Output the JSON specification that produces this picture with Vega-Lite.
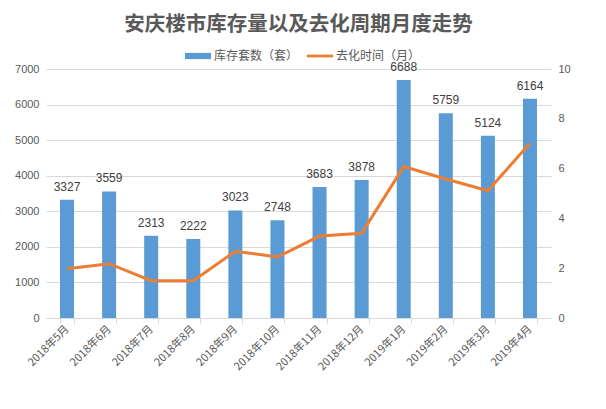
{
  "$schema": "https://vega.github.io/schema/vega-lite/v6.json",
  "autosize": {"type": "none"},
  "width": 505,
  "height": 249,
  "padding": {"left": 46, "top": 69, "right": 55, "bottom": 91},
  "background": "white",
  "title": {
    "text": "安庆楼市库存量以及去化周期月度走势",
    "fontSize": 20.5,
    "font": "Noto Sans CJK SC",
    "fontWeight": "bold",
    "color": "#595959",
    "anchor": "middle",
    "frame": "group",
    "offset": 8
  },
  "data": {
    "values": [
      {"month": "2018年5月", "stock": 3327, "cycle": 1.98},
      {"month": "2018年6月", "stock": 3559, "cycle": 2.18},
      {"month": "2018年7月", "stock": 2313, "cycle": 1.5},
      {"month": "2018年8月", "stock": 2222, "cycle": 1.5},
      {"month": "2018年9月", "stock": 3023, "cycle": 2.68},
      {"month": "2018年10月", "stock": 2748, "cycle": 2.45},
      {"month": "2018年11月", "stock": 3683, "cycle": 3.29},
      {"month": "2018年12月", "stock": 3878, "cycle": 3.4},
      {"month": "2019年1月", "stock": 6688, "cycle": 6.08},
      {"month": "2019年2月", "stock": 5759, "cycle": 5.58},
      {"month": "2019年3月", "stock": 5124, "cycle": 5.11},
      {"month": "2019年4月", "stock": 6164, "cycle": 7.02}
    ]
  },
  "encoding": {
    "x": {
      "field": "month",
      "type": "nominal",
      "sort": null,
      "scale": {"paddingInner": 0.667, "paddingOuter": 0.333},
      "axis": {
        "title": null,
        "labelAngle": -45,
        "labelAlign": "right",
        "labelBaseline": "middle",
        "labelFontSize": 11,
        "labelFont": "Noto Sans CJK SC",
        "labelColor": "#595959",
        "labelPadding": 4,
        "domainColor": "#d9d9d9",
        "tickColor": "#d9d9d9",
        "tickBand": "extent",
        "tickSize": 5,
        "grid": false
      }
    }
  },
  "layer": [
    {
      "mark": {"type": "bar", "color": "#5B9BD5"},
      "encoding": {
        "y": {
          "field": "stock",
          "type": "quantitative",
          "scale": {"domain": [0, 7000]},
          "axis": {
            "title": null,
            "values": [0, 1000, 2000, 3000, 4000, 5000, 6000, 7000],
            "format": "d",
            "domain": false,
            "ticks": false,
            "labelFontSize": 11,
            "labelFont": "Liberation Sans",
            "labelColor": "#595959",
            "labelPadding": 7,
            "gridColor": "#d9d9d9",
            "gridWidth": 1
          }
        },
        "color": {
          "datum": "库存套数（套）",
          "type": "nominal",
          "scale": {"domain": ["库存套数（套）", "去化时间（月）"], "range": ["#5B9BD5", "#ED7D31"]},
          "legend": {
            "title": null,
            "orient": "none",
            "direction": "horizontal",
            "legendX": 139,
            "legendY": -26,
            "labelFontSize": 12,
            "labelFont": "Noto Sans CJK SC",
            "labelColor": "#595959",
            "labelOffset": 3,
            "columnPadding": 8,
            "symbolSize": 676,
            "encode": {
              "symbols": {
                "update": {
                  "shape": [
                    {"test": "datum.value === '库存套数（套）'", "value": "M-1,-0.24H1V0.24H-1Z"},
                    {"value": "M-1,-0.11H1V0.11H-1Z"}
                  ],
                  "fill": [
                    {"test": "datum.value === '库存套数（套）'", "value": "#5B9BD5"},
                    {"value": "#ED7D31"}
                  ],
                  "strokeWidth": {"value": 0},
                  "opacity": {"value": 1}
                }
              }
            }
          }
        }
      }
    },
    {
      "mark": {"type": "text", "baseline": "bottom", "dy": -6, "fontSize": 12, "font": "Liberation Sans", "color": "#404040"},
      "encoding": {
        "y": {"field": "stock", "type": "quantitative", "scale": {"domain": [0, 7000]}, "axis": null},
        "text": {"field": "stock", "type": "quantitative", "format": "d"}
      }
    },
    {
      "mark": {"type": "line", "color": "#ED7D31", "strokeWidth": 3},
      "encoding": {
        "y": {
          "field": "cycle",
          "type": "quantitative",
          "scale": {"domain": [0, 10]},
          "axis": {
            "orient": "right",
            "title": null,
            "values": [0, 2, 4, 6, 8, 10],
            "grid": false,
            "domain": false,
            "ticks": false,
            "labelFontSize": 11,
            "labelFont": "Liberation Sans",
            "labelColor": "#595959",
            "labelPadding": 7
          }
        }
      }
    }
  ],
  "resolve": {"scale": {"y": "independent"}},
  "config": {"view": {"stroke": null}}
}
